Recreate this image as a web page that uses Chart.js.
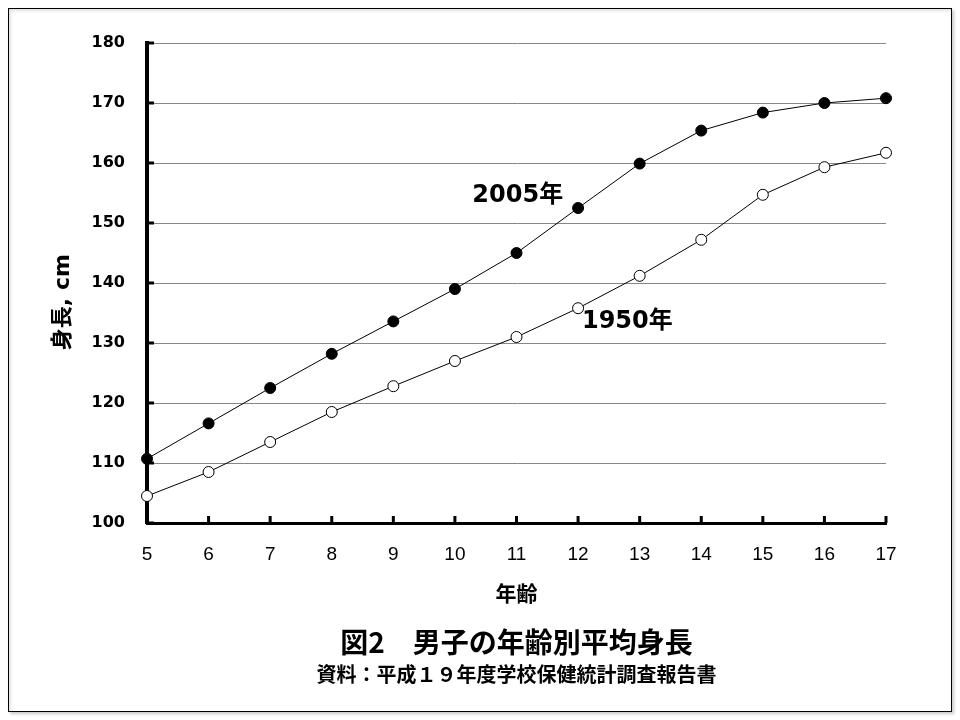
<!DOCTYPE html>
<html><head><meta charset="utf-8">
<script src="https://cdn.jsdelivr.net/npm/chart.js@4/dist/chart.umd.min.js"></script>
<style>
html,body{margin:0;padding:0;background:#fff;width:960px;height:720px;overflow:hidden;}
#frame{position:absolute;left:8px;top:8px;width:944px;height:704px;box-sizing:border-box;border:1px solid #000;box-shadow:2px 2px 3px #c8c8c8, inset 2px 2px 3px #e2e2e2;}
#c{position:absolute;left:0;top:0;}
</style></head><body>
<div id="frame"></div>
<canvas id="c" width="960" height="720"></canvas>
<script>
// ---- data ----
const ages = ['5','6','7','8','9','10','11','12','13','14','15','16','17'];
const height2005 = [110.7,116.6,122.5,128.2,133.6,139.0,145.0,152.5,159.9,165.4,168.4,170.0,170.8];
const height1950 = [104.5,108.5,113.5,118.5,122.8,127.0,131.0,135.8,141.2,147.2,154.7,159.3,161.7];
const seriesNames = ['2005年','1950年'];
const yMin = 100, yMax = 180, yStep = 10;
const titleText = '図2　男子の年齢別平均身長';
const subtitleText = '資料：平成１９年度学校保健統計調査報告書';
const xTitle = '年齢';
const yTitle = '身長, cm';

// inward tick marks drawn from the scales
const innerTicks = {
  id: 'innerTicks',
  beforeDatasetsDraw(chart) {
    const {ctx, scales: {x, y}, chartArea: a} = chart;
    ctx.save();
    ctx.fillStyle = '#000';
    x.ticks.forEach((t, i) => {
      const px = x.getPixelForTick(i);
      ctx.fillRect(px - 1.5, a.bottom - 7, 3, 7);
    });
    y.ticks.forEach((t, i) => {
      const py = y.getPixelForTick(i);
      ctx.fillRect(a.left, py - 1.5, 7, 3);
    });
    ctx.restore();
  }
};

// series labels placed in data coordinates
const seriesLabelPlugin = {
  id: 'seriesLabels',
  afterDatasetsDraw(chart, args, opts) {
    const {ctx, scales: {x, y}} = chart;
    ctx.save();
    ctx.fillStyle = '#000';
    ctx.font = "bold 24px 'DejaVu Sans', 'Noto Sans CJK JP', sans-serif";
    ctx.textAlign = 'center';
    ctx.textBaseline = 'middle';
    opts.items.forEach(it => {
      ctx.fillText(it.text, x.getPixelForValue(it.xIndex), y.getPixelForValue(it.yValue));
    });
    ctx.restore();
  }
};

new Chart(document.getElementById('c'), {
  type: 'line',
  data: {
    labels: ages,
    datasets: [
      {
        label: seriesNames[0],
        data: height2005,
        borderColor: '#000',
        borderWidth: 1,
        pointRadius: 5.5,
        pointBackgroundColor: '#000',
        pointBorderColor: '#000',
        pointBorderWidth: 1,
        tension: 0,
        clip: false
      },
      {
        label: seriesNames[1],
        data: height1950,
        borderColor: '#000',
        borderWidth: 1,
        pointRadius: 5.5,
        pointBackgroundColor: '#fff',
        pointBorderColor: '#000',
        pointBorderWidth: 1,
        tension: 0,
        clip: false
      }
    ]
  },
  options: {
    responsive: false,
    animation: false,
    devicePixelRatio: 1,
    layout: {padding: {left: 0, right: 74, top: 43, bottom: 33.5}},
    plugins: {
      legend: {display: false},
      tooltip: {enabled: false},
      title: {
        display: true,
        position: 'bottom',
        fullSize: false,
        weight: 1000,
        text: titleText,
        color: '#000',
        font: {family: "'Noto Sans CJK JP', sans-serif", size: 28, weight: 'bold', lineHeight: 1.2},
        padding: {top: 0, bottom: 0}
      },
      subtitle: {
        display: true,
        position: 'bottom',
        fullSize: false,
        weight: 2000,
        text: subtitleText,
        color: '#000',
        font: {family: "'Noto Sans CJK JP', sans-serif", size: 20, weight: 'bold', lineHeight: 1.2},
        padding: {top: 3.7, bottom: 0}
      },
      seriesLabels: {
        items: [
          {text: seriesNames[0], xIndex: 6.02, yValue: 154.6},
          {text: seriesNames[1], xIndex: 7.8, yValue: 133.5}
        ]
      }
    },
    scales: {
      x: {
        type: 'category',
        offset: false,
        grid: {display: false, drawTicks: false},
        border: {display: true, color: '#000', width: 3},
        ticks: {
          color: '#000',
          padding: 20.6,
          autoSkip: false,
          maxRotation: 0,
          font: {family: "'Liberation Sans', Arial, sans-serif", size: 19}
        },
        title: {
          display: true,
          text: xTitle,
          color: '#000',
          font: {family: "'Noto Sans CJK JP', sans-serif", size: 21, weight: 'bold', lineHeight: 1.2},
          padding: {top: 0, bottom: 19.6}
        },
        afterFit(s) { s.height = 102.2; }
      },
      y: {
        min: yMin,
        max: yMax,
        grid: {display: true, color: '#878787', lineWidth: 1, drawTicks: false},
        border: {display: true, color: '#000', width: 4},
        ticks: {
          stepSize: yStep,
          color: '#000',
          padding: 22,
          font: {family: "'DejaVu Sans', sans-serif", size: 16, weight: 'bold'}
        },
        title: {
          display: true,
          text: yTitle + '     ',
          color: '#000',
          font: {family: "'DejaVu Sans', 'Noto Sans CJK JP', sans-serif", size: 22, weight: 'bold', lineHeight: 1.2},
          padding: {top: 49.8, bottom: 0}
        },
        afterFit(s) { s.width = 147; }
      }
    }
  },
  plugins: [innerTicks, seriesLabelPlugin]
});
</script>
</body></html>
